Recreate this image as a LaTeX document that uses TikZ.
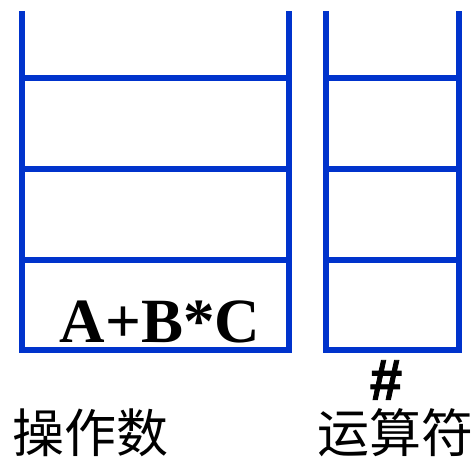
\documentclass[tikz,border=0pt]{standalone}
\usepackage{fontspec}
\setmainfont{Liberation Serif}
\newfontfamily\cjkfont{Noto Sans CJK SC}
\newfontfamily\signfont{Liberation Sans}[UprightFont=*-Bold, FakeBold=1.5]
\usepackage{tikz}
\definecolor{stackblue}{RGB}{0,51,204}

\begin{document}
\begin{tikzpicture}[
    x=1pt, y=1pt,
    wall/.style={stackblue, line width=6pt, line join=miter},
    caption/.style={inner sep=0pt, font=\cjkfont\fontsize{52}{52}\selectfont},
    entry/.style={inner sep=0pt, anchor=base, font=\bfseries\fontsize{63}{63}\selectfont}
]
    \useasboundingbox (0,0) rectangle (473,463);

    % Stacks
    \draw[wall] (22,452) -- (22,113) -- (288.5,113) -- (288.5,452);
    \foreach \y in {203,294,384.5}
        \draw[wall] (22,\y) -- (288.5,\y);
    \draw[wall] (326,452) -- (326,113) -- (459,113) -- (459,452);
    \foreach \y in {203,294,384.5}
        \draw[wall] (326,\y) -- (459,\y);

    % Nodes
    \node[entry] (expr) at (160,121) {A+B*C};
    \node[inner sep=0pt, font=\signfont\fontsize{58}{58}\selectfont] (bottom) at (386,83) {\#};
    \node[caption] (opnd) at (90.5,30) {操作数};
    \node[caption] (optr) at (395,30) {运算符};
\end{tikzpicture}
\end{document}
